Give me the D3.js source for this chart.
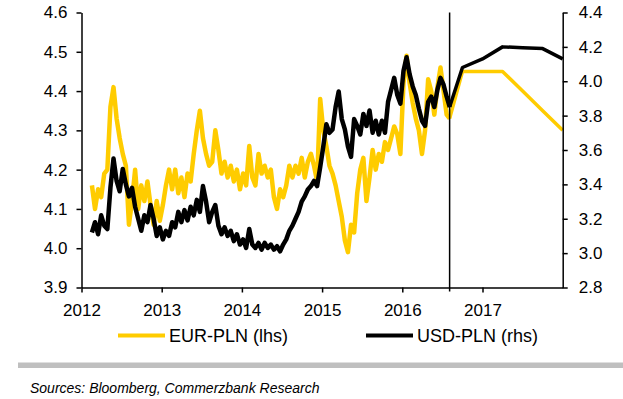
<!DOCTYPE html>
<html>
<head>
<meta charset="utf-8">
<script src="https://cdn.jsdelivr.net/npm/d3@7"></script>
<style>
  body { margin: 0; background: #fff; }
  svg { display: block; font-family: "Liberation Sans", Arial, sans-serif; }
</style>
</head>
<body>
<div id="chart"></div>
<script>
// ##################################
// EUR-PLN (lhs) vs USD-PLN (rhs), history + forecast
// ##################################

// History: biweekly readings starting early Feb 2012
const histStart = 2012.13;
const histStep = 1 / 26;

const eurHist = [
  4.16, 4.10, 4.15, 4.13, 4.19, 4.20, 4.36, 4.41, 4.33, 4.28,
  4.24, 4.21, 4.06, 4.12, 4.20, 4.10, 4.16, 4.12, 4.17, 4.11,
  4.06, 4.12, 4.07, 4.11, 4.16, 4.20, 4.15, 4.20, 4.14, 4.18,
  4.13, 4.19, 4.17, 4.24, 4.30, 4.35, 4.28, 4.24, 4.21, 4.22,
  4.30, 4.25, 4.19, 4.22, 4.18, 4.21, 4.17, 4.20, 4.15, 4.19,
  4.16, 4.26, 4.18, 4.16, 4.24, 4.19, 4.21, 4.18, 4.20, 4.13,
  4.10, 4.15, 4.13, 4.16, 4.21, 4.18, 4.21, 4.19, 4.23, 4.18,
  4.22, 4.24, 4.21, 4.17, 4.38, 4.30, 4.26, 4.21, 4.19, 4.16,
  4.12, 4.08, 4.02, 3.99, 4.06, 4.04, 4.14, 4.20, 4.23, 4.12,
  4.18, 4.25, 4.20, 4.24, 4.22, 4.27, 4.25, 4.28, 4.31, 4.29,
  4.24, 4.42, 4.49, 4.42, 4.37, 4.33, 4.30, 4.24, 4.30, 4.43,
  4.40, 4.34, 4.41, 4.46, 4.40, 4.34, 4.33
];

const usdHist = [
  3.12, 3.18, 3.11, 3.22, 3.16, 3.14, 3.38, 3.55, 3.42, 3.36,
  3.49, 3.40, 3.33, 3.38, 3.27, 3.20, 3.13, 3.22, 3.18, 3.28,
  3.20, 3.10, 3.15, 3.08, 3.13, 3.10, 3.18, 3.15, 3.24, 3.18,
  3.25, 3.19, 3.27, 3.22, 3.31, 3.24, 3.39, 3.30, 3.18, 3.24,
  3.28, 3.16, 3.11, 3.15, 3.10, 3.13, 3.07, 3.11, 3.05, 3.08,
  3.03, 3.14, 3.05, 3.03, 3.06, 3.02, 3.06, 3.03, 3.05, 3.02,
  3.04, 3.01, 3.05, 3.08, 3.13, 3.16, 3.20, 3.24, 3.30, 3.33,
  3.37, 3.39, 3.42, 3.39, 3.50, 3.62, 3.75, 3.70, 3.72, 3.85,
  3.94, 3.78, 3.72, 3.62, 3.56, 3.78, 3.74, 3.69, 3.81, 3.74,
  3.83, 3.70, 3.77, 3.69, 3.77, 3.70, 3.88, 3.95, 4.02, 3.92,
  3.87, 4.06, 4.14, 4.04, 3.97, 3.92, 3.84, 3.77, 3.74, 3.88,
  3.91, 3.85, 3.95, 4.02, 3.98, 3.91, 3.85
];

// Forecast (quarter ends)
const fcDates = [2016.59, 2016.75, 2017.0, 2017.25, 2017.5, 2017.75, 2018.0];
const eurFc = [4.33, 4.45, 4.45, 4.45, 4.40, 4.35, 4.30];
const usdFc = [3.85, 4.08, 4.13, 4.20, 4.195, 4.19, 4.13];

const forecastStart = 2016.59;
const yearTicks = [2012, 2013, 2014, 2015, 2016, 2017];
const leftTicks = [3.9, 4.0, 4.1, 4.2, 4.3, 4.4, 4.5, 4.6];
const rightTicks = [2.8, 3.0, 3.2, 3.4, 3.6, 3.8, 4.0, 4.2, 4.4];

const legendNames = ["EUR-PLN (lhs)", "USD-PLN (rhs)"];
const sourceText = "Sources: Bloomberg, Commerzbank Research";

const yellow = "#ffcc00";
const black = "#000000";

// Store values for svg creation
const W = 623, H = 399;
const m = {left: 81.5, right: 562.7, top: 12.5, bottom: 287.5};

const svg = d3.select("#chart")
    .append("svg")
    .attr("width", W)
    .attr("height", H);

const x = d3.scaleLinear().domain([2012, 2018]).range([m.left, m.right]);
const yL = d3.scaleLinear().domain([3.9, 4.6]).range([m.bottom, m.top]);
const yR = d3.scaleLinear().domain([2.8, 4.4]).range([m.bottom, m.top]);

const histDates = eurHist.map((d, i) => histStart + i * histStep);

const lineL = d3.line().x(d => x(d[0])).y(d => yL(d[1]));
const lineR = d3.line().x(d => x(d[0])).y(d => yR(d[1]));

// Series
const plot = svg.append("g");

plot.append("path")
    .datum(histDates.map((d, i) => [d, eurHist[i]]))
    .attr("d", lineL)
    .attr("fill", "none")
    .attr("stroke", yellow)
    .attr("stroke-width", 4.5)
    .attr("stroke-linejoin", "round");

plot.append("path")
    .datum(fcDates.map((d, i) => [d, eurFc[i]]))
    .attr("d", lineL)
    .attr("fill", "none")
    .attr("stroke", yellow)
    .attr("stroke-width", 3.5)
    .attr("stroke-linejoin", "round");

plot.append("path")
    .datum(histDates.map((d, i) => [d, usdHist[i]]))
    .attr("d", lineR)
    .attr("fill", "none")
    .attr("stroke", black)
    .attr("stroke-width", 4.5)
    .attr("stroke-linejoin", "round");

plot.append("path")
    .datum(fcDates.map((d, i) => [d, usdFc[i]]))
    .attr("d", lineR)
    .attr("fill", "none")
    .attr("stroke", black)
    .attr("stroke-width", 3.5)
    .attr("stroke-linejoin", "round");

// Forecast divider
svg.append("line")
    .attr("x1", x(forecastStart)).attr("x2", x(forecastStart))
    .attr("y1", m.top).attr("y2", m.bottom + 4)
    .attr("stroke", "#000")
    .attr("stroke-width", 1.5);

// Axes
const styleAxis = g => {
    g.select(".domain").attr("stroke", "#000").attr("stroke-width", 1.5);
    g.selectAll(".tick line").attr("stroke", "#000").attr("stroke-width", 1.5);
    g.selectAll(".tick text").attr("fill", "#000").attr("font-size", 17)
        .attr("font-family", "'Liberation Sans', Arial, sans-serif");
};

svg.append("g")
    .attr("transform", `translate(${m.left},0)`)
    .call(d3.axisLeft(yL).tickValues(leftTicks).tickFormat(d3.format(".1f"))
        .tickSize(5).tickSizeOuter(0).tickPadding(9))
    .call(styleAxis);

svg.append("g")
    .attr("transform", `translate(${m.right},0)`)
    .call(d3.axisRight(yR).tickValues(rightTicks).tickFormat(d3.format(".1f"))
        .tickSize(5).tickSizeOuter(0).tickPadding(11))
    .call(styleAxis);

svg.append("g")
    .attr("transform", `translate(0,${m.bottom})`)
    .call(d3.axisBottom(x).tickValues(yearTicks).tickFormat(d3.format("d"))
        .tickSize(5).tickSizeOuter(0).tickPadding(11))
    .call(styleAxis);

// Legend
const legend = svg.append("g").attr("font-size", 18);
const legendX = [118, 366];
const legendColors = [yellow, black];
legendNames.forEach((name, i) => {
    legend.append("line")
        .attr("x1", legendX[i]).attr("x2", legendX[i] + 47)
        .attr("y1", 335.5).attr("y2", 335.5)
        .attr("stroke", legendColors[i])
        .attr("stroke-width", 4);
    legend.append("text")
        .attr("x", legendX[i] + 51)
        .attr("y", 342)
        .attr("fill", "#000")
        .text(name);
});

// Footer
svg.append("rect")
    .attr("x", 18).attr("y", 362.5)
    .attr("width", W - 18).attr("height", 5.5)
    .attr("fill", "#bfbfbf");

svg.append("text")
    .attr("x", 30).attr("y", 393)
    .attr("font-size", 14)
    .attr("font-style", "italic")
    .attr("fill", "#000")
    .text(sourceText);
</script>
</body>
</html>
